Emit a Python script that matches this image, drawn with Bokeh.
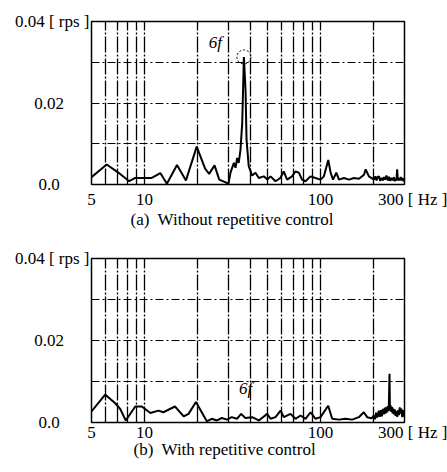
from bokeh.plotting import figure
from bokeh.layouts import column
from bokeh.models import Label, FixedTicker, ColumnDataSource, Title
from bokeh.embed import file_html
from bokeh.resources import INLINE

# ---------------- data ----------------
freq_a = [5.0, 6.1, 7.27, 8.19, 8.86, 11.0, 12.3, 13.4, 15.3, 17.2, 19.8, 22.1, 23.3, 25.0,
          26.6, 28.7, 30.0, 30.8, 32.2, 32.9, 33.6, 34.3, 35.1, 35.9, 36.7, 37.5, 38.0, 39.1,
          40.9, 42.7, 44.6, 47.6, 49.9, 52.0, 55.5, 59.1, 61.8, 64.6, 68.9, 72.0, 75.3, 78.6,
          82.2, 87.7, 93.6, 100, 104.5, 110.7, 114.1, 117.8, 123.0, 127.3, 135.9, 145.1,
          154.9, 165.4, 176.6, 180.5, 188.4,
          201, 205, 208, 211, 214.7, 218, 222, 226, 229.2, 233, 237, 241, 244.7, 248,
          252, 256, 261.2, 264, 267, 270, 272.5, 275, 279, 282, 286, 290, 293, 296, 300]
amp_a = [0.0018, 0.0049, 0.0026, 0.0008, 0.0016, 0.0016, 0.0028, 0.0002, 0.0048, 0.0010,
         0.0093, 0.0039, 0.0026, 0.0047, 0.0012, 0.0006, 0.0002, 0.0029, 0.0053, 0.0041,
         0.0065, 0.0053, 0.0085, 0.0150, 0.0313, 0.0232, 0.0110, 0.0045, 0.0022, 0.0029,
         0.0016, 0.0020, 0.0012, 0.0020, 0.0008, 0.0016, 0.0032, 0.0012, 0.0020, 0.0032,
         0.0029, 0.0012, 0.0008, 0.0020, 0.0016, 0.0012, 0.0020, 0.0060, 0.0029, 0.0012,
         0.0029, 0.0012, 0.0016, 0.0012, 0.0016, 0.0014, 0.0024, 0.0037, 0.0020,
         0.0012, 0.0020, 0.0010, 0.0018, 0.0020, 0.0009, 0.0016, 0.0010, 0.0018, 0.0012,
         0.0022, 0.0010, 0.0019, 0.0009, 0.0016, 0.0010, 0.0018, 0.0008, 0.0014, 0.0010,
         0.0037, 0.0010, 0.0016, 0.0010, 0.0018, 0.0010, 0.0016, 0.0008, 0.0015]

freq_b = [5.0, 5.98, 6.82, 7.28, 7.83, 8.86, 9.65, 10.8, 12.0, 12.8, 14.9, 16.7, 17.8, 19.6,
          22.6, 24.1, 25.8, 27.5, 29.4, 31.3, 33.5, 35.4, 37.4, 40.9, 44.6, 49.8, 52.0, 55.5,
          59.3, 61.9, 67.5, 72.1, 77.0, 82.2, 87.8, 93.7, 100, 110.6, 116.5, 127.1, 138.7,
          151.4, 165.1, 176.2, 184.2,
          195, 200.9, 204, 207, 210, 214.5, 217, 220, 223, 226, 229, 232, 234, 237, 239.3,
          242, 244, 246.6, 248, 250, 252.2, 255, 257, 259, 261, 264, 267, 270, 272.8, 276,
          279, 282, 284.8, 288, 291, 294, 297, 300]
amp_b = [0.0027, 0.0068, 0.0047, 0.0033, 0.0005, 0.0039, 0.0039, 0.0023, 0.0029, 0.0025,
         0.0039, 0.0015, 0.0021, 0.0050, 0.0003, 0.0009, 0.0005, 0.0011, 0.0007, 0.0013,
         0.0009, 0.0021, 0.0011, 0.0013, 0.0005, 0.0021, 0.0009, 0.0013, 0.0029, 0.0013,
         0.0021, 0.0009, 0.0017, 0.0009, 0.0025, 0.0009, 0.0013, 0.0041, 0.0009, 0.0007,
         0.0009, 0.0007, 0.0013, 0.0025, 0.0013,
         0.0010, 0.0017, 0.0008, 0.0024, 0.0012, 0.0029, 0.0014, 0.0030, 0.0015, 0.0033,
         0.0020, 0.0036, 0.0022, 0.0038, 0.0025, 0.0040, 0.0028, 0.0119, 0.0030, 0.0042,
         0.0026, 0.0038, 0.0022, 0.0034, 0.0020, 0.0032, 0.0016, 0.0028, 0.0014, 0.0030,
         0.0018, 0.0037, 0.0022, 0.0034, 0.0013, 0.0030, 0.0015, 0.0020]

x_ticks = [5, 10, 100, 300]
x_tick_labels = ["5", "10", "100", "300 [ Hz ]"]
y_ticks = [0.0, 0.02, 0.04]
y_tick_labels = ["0.0", "0.02", "0.04 [ rps ]"]
x_grid = [6, 7, 8, 9, 10, 20, 30, 40, 50, 60, 70, 80, 90, 100, 200]
y_grid = [0.01, 0.02, 0.03]
captions = ["(a)\u00a0 Without repetitive control", "(b)\u00a0 With repetitive control"]
harmonic_label = "6f"
label_a_pos = (25.3, 0.0348)
label_b_pos = (37.5, 0.0083)

assert len(freq_a) == len(amp_a) and len(freq_b) == len(amp_b)

FONT = "Liberation Serif"
NB = "\u00a0"
# non-breaking padding that shifts a tick label sideways (labels in the
# original are centred left of the frame rather than right-aligned)
y_pad = {0.0: 7, 0.02: 6, 0.04: 0}
x_pad_left = {300: 4}


def make_panel(freq, amp, caption, height, top, bottom, x_standoff, cap_offset, cap_standoff):
    p = figure(width=447, height=height, x_axis_type="log", x_range=(5, 300), y_range=(0, 0.04),
               toolbar_location=None, output_backend="svg",
               min_border_left=91, min_border_right=43,
               min_border_top=top, min_border_bottom=bottom)
    p.outline_line_color = "black"
    p.outline_line_width = 1.5
    p.background_fill_color = "white"
    p.border_fill_color = "white"

    # axes: labels only
    p.xaxis.ticker = FixedTicker(ticks=x_ticks)
    p.xaxis.major_label_overrides = {t: NB * x_pad_left.get(t, 0) + s
                                     for t, s in zip(x_ticks, x_tick_labels)}
    p.yaxis.ticker = FixedTicker(ticks=y_ticks)
    p.yaxis.major_label_overrides = {t: s + NB * y_pad.get(t, 0)
                                     for t, s in zip(y_ticks, y_tick_labels)}
    for ax in (p.xaxis, p.yaxis):
        ax.axis_line_color = None
        ax.major_tick_line_color = None
        ax.minor_tick_line_color = None
        ax.major_tick_out = 0
        ax.major_tick_in = 0
        ax.minor_tick_out = 0
        ax.minor_tick_in = 0
        ax.major_label_text_font = FONT
        ax.major_label_text_font_size = "17px"
        ax.major_label_text_color = "black"
    p.xaxis.major_label_standoff = x_standoff
    p.yaxis.major_label_standoff = 2

    p.xgrid.ticker = FixedTicker(ticks=x_grid)
    p.xgrid.grid_line_color = "black"
    p.xgrid.grid_line_width = 1.3
    p.xgrid.grid_line_dash = "16 2 2 2"
    p.ygrid.ticker = FixedTicker(ticks=y_grid)
    p.ygrid.grid_line_color = "black"
    p.ygrid.grid_line_width = 1.1
    p.ygrid.grid_line_dash = "8 3 2 3"

    src = ColumnDataSource(dict(f=freq, a=amp))
    p.line("f", "a", source=src, line_color="black", line_width=2)

    p.add_layout(Title(text=caption, align="left", offset=cap_offset, standoff=cap_standoff,
                       vertical_align="top",
                       text_font=FONT, text_font_size="17px", text_font_style="normal",
                       text_color="black"), "below")
    return p


p1 = make_panel(freq_a, amp_a, captions[0], 232, 21, 48, 5, 39, -4)
p2 = make_panel(freq_b, amp_b, captions[1], 240, 26, 50, 0, 42, -9)

# harmonic annotations
p1.add_layout(Label(x=label_a_pos[0], y=label_a_pos[1], text=harmonic_label,
                    text_align="center", text_baseline="middle", text_font=FONT,
                    text_font_style="italic", text_font_size="17px", text_color="black"))
p2.add_layout(Label(x=label_b_pos[0], y=label_b_pos[1], text=harmonic_label,
                    text_align="center", text_baseline="middle", text_font=FONT,
                    text_font_style="italic", text_font_size="17px", text_color="black"))

# dotted circle marking the 6f peak (taken from the data maximum)
i_pk = max(range(len(amp_a)), key=lambda i: amp_a[i])
p1.scatter([freq_a[i_pk]], [amp_a[i_pk]], marker="circle", size=14, fill_alpha=0,
           line_color="black", line_width=1, line_dash="2 2")

layout = column(p1, p2)
open("out.html", "w").write(file_html(layout, INLINE))
